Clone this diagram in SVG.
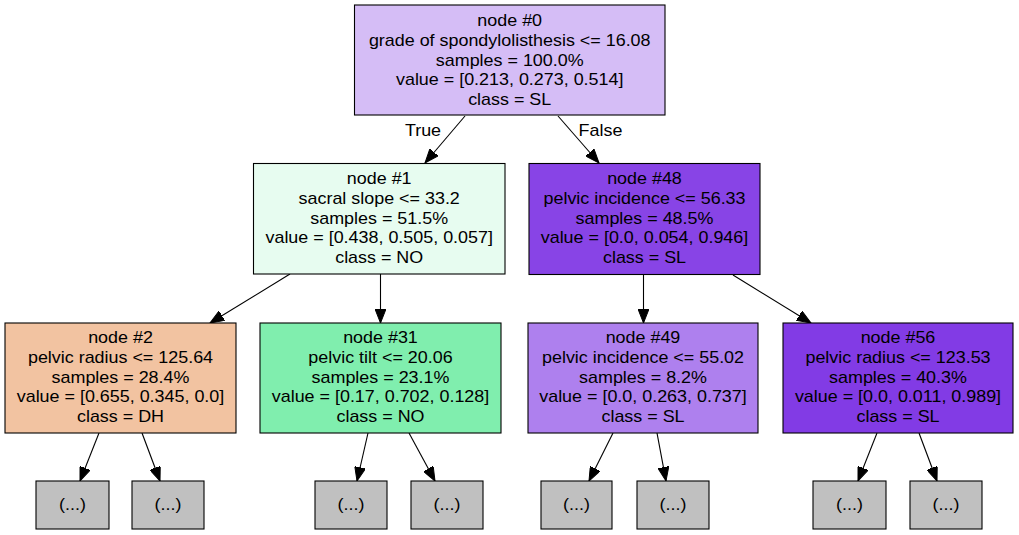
<svg xmlns="http://www.w3.org/2000/svg" width="1019" height="535" viewBox="0 0 1019 535">
<style>
.box{stroke:#000;stroke-width:1.1}
.leaf{fill:#c0c0c0;stroke:#000;stroke-width:1.1}
text{font-family:"Liberation Sans",Arial,Helvetica,sans-serif;font-size:16px;fill:#000;text-anchor:middle}
.edge{stroke:#000;stroke-width:1.1;fill:none;marker-end:url(#arr)}
</style>
<defs>
<marker id="arr" markerUnits="userSpaceOnUse" markerWidth="15" markerHeight="11" refX="14" refY="5.5" orient="auto" viewBox="0 0 15 11">
<path d="M0,0 L14,5.5 L0,11 Z" fill="#000" stroke="#000" stroke-width="1"/>
</marker>
</defs>
<rect width="1019" height="535" fill="#fff"/>
<g id="connectors">
<line class="edge" x1="465" y1="116" x2="425" y2="163"/>
<line class="edge" x1="558" y1="116" x2="599" y2="163"/>
<line class="edge" x1="290" y1="274" x2="210" y2="323"/>
<line class="edge" x1="380.5" y1="274" x2="380.5" y2="323"/>
<line class="edge" x1="643.5" y1="275" x2="643.5" y2="323"/>
<line class="edge" x1="733" y1="275" x2="811" y2="323"/>
<line class="edge" x1="99" y1="433" x2="80" y2="481"/>
<line class="edge" x1="142" y1="433" x2="160" y2="481"/>
<line class="edge" x1="368" y1="433" x2="357" y2="481"/>
<line class="edge" x1="409" y1="433" x2="435" y2="481"/>
<line class="edge" x1="613" y1="433" x2="589" y2="481"/>
<line class="edge" x1="657" y1="433" x2="666" y2="481"/>
<line class="edge" x1="877" y1="433" x2="858" y2="481"/>
<line class="edge" x1="919" y1="433" x2="937" y2="481"/>
<g transform="translate(423 0) scale(1.12 1)"><text x="0" y="136">True</text></g>
<g transform="translate(600.5 0) scale(1.12 1)"><text x="0" y="136">False</text></g>
</g>
<g id="node0">
<rect class="box" x="354.5" y="5" width="310.5" height="110" fill="#d5bdf6"/>
<g transform="translate(509.7 0) scale(1.12 1)">
<text x="0" y="26.5">node #0</text>
<text x="0" y="46.1">grade of spondylolisthesis &lt;= 16.08</text>
<text x="0" y="65.7">samples = 100.0%</text>
<text x="0" y="85.3">value = [0.213, 0.273, 0.514]</text>
<text x="0" y="104.9">class = SL</text>
</g>
</g>
<g id="node1">
<rect class="box" x="253.5" y="163.5" width="251.5" height="110.5" fill="#e7fcf0"/>
<g transform="translate(379.2 0) scale(1.12 1)">
<text x="0" y="184.5">node #1</text>
<text x="0" y="204.1">sacral slope &lt;= 33.2</text>
<text x="0" y="223.7">samples = 51.5%</text>
<text x="0" y="243.3">value = [0.438, 0.505, 0.057]</text>
<text x="0" y="262.9">class = NO</text>
</g>
</g>
<g id="node48">
<rect class="box" x="529" y="163.5" width="231" height="111" fill="#8844e6"/>
<g transform="translate(644.5 0) scale(1.12 1)">
<text x="0" y="184.5">node #48</text>
<text x="0" y="204.1">pelvic incidence &lt;= 56.33</text>
<text x="0" y="223.7">samples = 48.5%</text>
<text x="0" y="243.3">value = [0.0, 0.054, 0.946]</text>
<text x="0" y="262.9">class = SL</text>
</g>
</g>
<g id="node2">
<rect class="box" x="5" y="323" width="231" height="110" fill="#f2c3a1"/>
<g transform="translate(120.5 0) scale(1.12 1)">
<text x="0" y="343.5">node #2</text>
<text x="0" y="363.1">pelvic radius &lt;= 125.64</text>
<text x="0" y="382.7">samples = 28.4%</text>
<text x="0" y="402.3">value = [0.655, 0.345, 0.0]</text>
<text x="0" y="421.9">class = DH</text>
</g>
</g>
<g id="node31">
<rect class="box" x="260" y="323" width="241" height="110" fill="#80eeae"/>
<g transform="translate(380.5 0) scale(1.12 1)">
<text x="0" y="343.5">node #31</text>
<text x="0" y="363.1">pelvic tilt &lt;= 20.06</text>
<text x="0" y="382.7">samples = 23.1%</text>
<text x="0" y="402.3">value = [0.17, 0.702, 0.128]</text>
<text x="0" y="421.9">class = NO</text>
</g>
</g>
<g id="node49">
<rect class="box" x="528" y="323" width="230" height="110" fill="#ae80ee"/>
<g transform="translate(643 0) scale(1.12 1)">
<text x="0" y="343.5">node #49</text>
<text x="0" y="363.1">pelvic incidence &lt;= 55.02</text>
<text x="0" y="382.7">samples = 8.2%</text>
<text x="0" y="402.3">value = [0.0, 0.263, 0.737]</text>
<text x="0" y="421.9">class = SL</text>
</g>
</g>
<g id="node56">
<rect class="box" x="783" y="323" width="230" height="110" fill="#823be5"/>
<g transform="translate(898 0) scale(1.12 1)">
<text x="0" y="343.5">node #56</text>
<text x="0" y="363.1">pelvic radius &lt;= 123.53</text>
<text x="0" y="382.7">samples = 40.3%</text>
<text x="0" y="402.3">value = [0.0, 0.011, 0.989]</text>
<text x="0" y="421.9">class = SL</text>
</g>
</g>
<g id="leaf3"><rect class="leaf" x="36" y="481" width="73" height="48"/><g transform="translate(72.5 0) scale(1.12 1)"><text x="0" y="510.5">(...)</text></g></g>
<g id="leaf4"><rect class="leaf" x="132" y="481" width="72" height="48"/><g transform="translate(168 0) scale(1.12 1)"><text x="0" y="510.5">(...)</text></g></g>
<g id="leaf32"><rect class="leaf" x="315" y="481" width="72" height="48"/><g transform="translate(351 0) scale(1.12 1)"><text x="0" y="510.5">(...)</text></g></g>
<g id="leaf33"><rect class="leaf" x="411" y="481" width="72" height="48"/><g transform="translate(447 0) scale(1.12 1)"><text x="0" y="510.5">(...)</text></g></g>
<g id="leaf50"><rect class="leaf" x="541" y="481" width="71" height="48"/><g transform="translate(576.5 0) scale(1.12 1)"><text x="0" y="510.5">(...)</text></g></g>
<g id="leaf51"><rect class="leaf" x="637" y="481" width="72" height="48"/><g transform="translate(673 0) scale(1.12 1)"><text x="0" y="510.5">(...)</text></g></g>
<g id="leaf57"><rect class="leaf" x="813" y="481" width="73" height="48"/><g transform="translate(849.5 0) scale(1.12 1)"><text x="0" y="510.5">(...)</text></g></g>
<g id="leaf58"><rect class="leaf" x="910" y="481" width="72" height="48"/><g transform="translate(946 0) scale(1.12 1)"><text x="0" y="510.5">(...)</text></g></g>
</svg>
